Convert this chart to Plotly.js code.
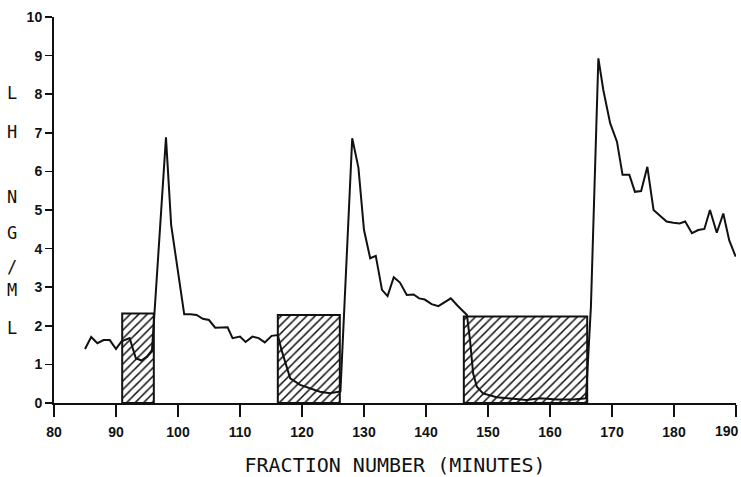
<!DOCTYPE html>
<html>
<head>
<meta charset="utf-8">
<script src="https://cdn.plot.ly/plotly-3.0.1.min.js"></script>
<style>html,body{margin:0;padding:0;background:#fff;}#chart{width:741px;height:477px;}</style>
</head>
<body>
<div id="chart"></div>
<script>
// LH concentration (ng/ml) by fraction number (minutes)
var fraction = [85, 86, 87, 88, 89, 90, 90.9, 92.2, 93.2, 94.1, 95, 95.8, 96.2,
  98.06, 98.9, 101, 102, 103, 104, 105, 106, 107, 108, 108.8, 110, 110.9, 112, 113, 114, 115.1, 116.1,
  116.7, 117.5, 118.1, 119.7, 121.3, 122.9, 124.5, 125.9, 126.2,
  128.1, 129.1, 130, 131, 131.9, 132.9, 133.8, 134.8, 135.8, 136.9, 138, 138.9, 139.8, 140.9, 142, 143, 144, 145.1, 146.2,
  146.6, 147.1, 147.6, 148.2, 149.2, 151.4, 153.5, 156.2, 158.4, 161.1, 163.8, 165.8, 166.6,
  167.8, 168.6, 169.7, 170.8, 171.7, 172.8, 173.7, 174.7, 175.7, 176.7, 177.8, 178.8, 179.9, 180.9, 181.8,
  182.9, 183.9, 184.9, 185.8, 186.9, 187.95, 188.9, 189.95];
var lhNgMl = [1.40, 1.71, 1.55, 1.63, 1.63, 1.40, 1.60, 1.68, 1.16, 1.10, 1.20, 1.37, 2.32,
  6.88, 4.61, 2.30, 2.30, 2.28, 2.18, 2.15, 1.95, 1.95, 1.96, 1.68, 1.72, 1.58, 1.72, 1.68, 1.57, 1.74, 1.76,
  1.37, 0.94, 0.64, 0.47, 0.38, 0.29, 0.25, 0.29, 0.30,
  6.86, 6.10, 4.48, 3.75, 3.81, 2.93, 2.77, 3.26, 3.12, 2.80, 2.81, 2.71, 2.68, 2.56, 2.51, 2.60, 2.71, 2.52, 2.34,
  2.28, 1.63, 0.77, 0.42, 0.25, 0.15, 0.12, 0.08, 0.12, 0.09, 0.09, 0.12, 2.50,
  8.93, 8.11, 7.25, 6.77, 5.91, 5.91, 5.47, 5.49, 6.12, 5.00, 4.83, 4.70, 4.67, 4.65, 4.70,
  4.40, 4.48, 4.51, 5.00, 4.41, 4.91, 4.22, 3.79];

// hatched infusion periods
var periodStart = [91, 116.1, 146.1];
var periodEnd = [96.1, 126.1, 166.0];
var periodLevel = [2.32, 2.28, 2.24];

var xTicks = [80, 90, 100, 110, 120, 130, 140, 150, 160, 170, 180, 190];
var yTicks = [0, 1, 2, 3, 4, 5, 6, 7, 8, 9, 10];
var yTitleLetters = ['L', 'H', 'N', 'G', '/', 'M', 'L'];
var yTitleLevels = [8.03, 7.02, 5.34, 4.40, 3.52, 2.93, 1.94];

var traces = [];
for (var i = 0; i < periodStart.length; i++) {
  traces.push({
    type: 'scatter', mode: 'lines',
    x: [periodStart[i], periodStart[i], periodEnd[i], periodEnd[i], periodStart[i]],
    y: [0, periodLevel[i], periodLevel[i], 0, 0],
    fill: 'toself', fillcolor: 'white',
    fillpattern: {shape: '/', size: 6, solidity: 0.25, fgcolor: '#111', bgcolor: 'white'},
    line: {color: '#111', width: 2},
    hoverinfo: 'skip', showlegend: false
  });
}
traces.push({
  type: 'scatter', mode: 'lines',
  x: fraction, y: lhNgMl,
  line: {color: '#111', width: 2},
  showlegend: false
});

var plotterFont = 'DejaVu Sans Mono, monospace';
var tickFont = {family: 'Liberation Sans, Arial, sans-serif', size: 14, color: '#111', weight: 700};

var annotations = yTitleLetters.map(function (ch, k) {
  return {
    text: ch, xref: 'paper', yref: 'y', x: -0.061, y: yTitleLevels[k],
    showarrow: false, xanchor: 'center', yanchor: 'middle',
    font: {family: plotterFont, size: 17, color: '#111'}
  };
});
// last x tick label sits at the right edge of the figure; drawn right-aligned so it stays inside
var lastTick = xTicks[xTicks.length - 1];
annotations.push({
  text: String(lastTick), xref: 'x', yref: 'paper', x: lastTick, y: 0,
  xanchor: 'right', yanchor: 'middle', xshift: 5, yshift: -28,
  showarrow: false, font: tickFont
});

var layout = {
  width: 741, height: 477,
  margin: {l: 54, r: 5, t: 17, b: 74},
  paper_bgcolor: 'white', plot_bgcolor: 'white',
  showlegend: false,
  xaxis: {
    range: [80, 190], tickvals: xTicks,
    ticktext: xTicks.map(function (v) { return v === lastTick ? '' : String(v); }),
    showgrid: false, zeroline: false, showline: true, linecolor: '#111', linewidth: 2,
    ticks: 'outside', ticklen: 12, tickwidth: 1.5, tickcolor: '#111',
    tickfont: tickFont, ticklabelstandoff: 3,
    title: {text: 'FRACTION NUMBER (MINUTES)', standoff: 22,
      font: {family: plotterFont, size: 20, color: '#111'}}
  },
  yaxis: {
    range: [0, 10], tickvals: yTicks, ticktext: yTicks.map(String),
    showgrid: false, zeroline: false, showline: true, linecolor: '#111', linewidth: 2,
    ticks: 'outside', ticklen: 7, tickwidth: 1.5, tickcolor: '#111',
    tickfont: tickFont
  },
  annotations: annotations
};

Plotly.newPlot('chart', traces, layout, {displayModeBar: false, staticPlot: true});
</script>
</body>
</html>
